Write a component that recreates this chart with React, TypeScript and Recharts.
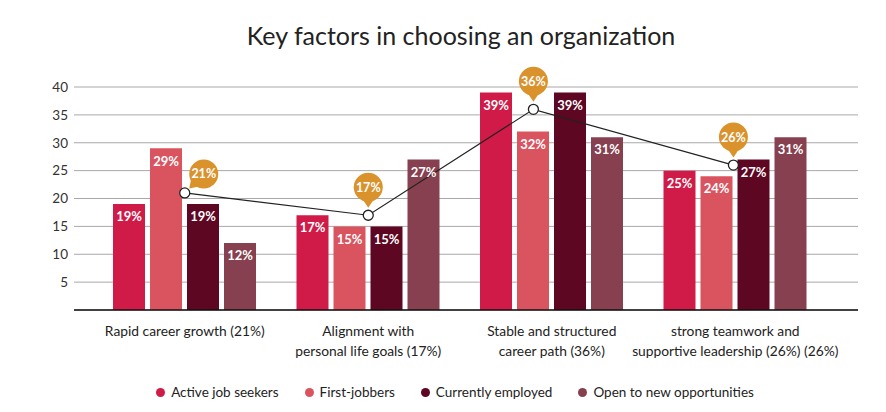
import React from "react";
import {
  ComposedChart,
  Bar,
  Line,
  XAxis,
  YAxis,
  CartesianGrid,
  LabelList,
  Legend,
} from "recharts";

const categories = [
  "Rapid career growth (21%)",
  "Alignment with\npersonal life goals (17%)",
  "Stable and structured\ncareer path (36%)",
  "strong teamwork and\nsupportive leadership (26%) (26%)",
];
const activeJobSeekers = [19, 17, 39, 25];
const firstJobbers = [29, 15, 32, 24];
const currentlyEmployed = [19, 15, 39, 27];
const openToNew = [12, 27, 31, 31];
const overallValues = [21, 17, 36, 26];
const overallPositions = [0.5, 1.5, 2.4, 3.49];
const yTicks = [5, 10, 15, 20, 25, 30, 35, 40];

const seriesNames = [
  "Active job seekers",
  "First-jobbers",
  "Currently employed",
  "Open to new opportunities",
];
const seriesColors = ["#D01A47", "#D9545F", "#5E0723", "#86404F"];
const seriesKeys = ["a", "b", "c", "d"];

const data = categories.map((cat, i) => ({
  cat,
  a: activeJobSeekers[i],
  b: firstJobbers[i],
  c: currentlyEmployed[i],
  d: openToNew[i],
}));

const lineData = overallValues.map((v, i) => ({ x: overallPositions[i], v }));

const FONT = "Lato, 'Open Sans', sans-serif";

const CategoryTick = (props: any) => {
  const { x, y, payload } = props;
  const lines = String(payload.value).split("\n");
  return (
    <g transform={`translate(${x},${y})`}>
      {lines.map((l, i) => (
        <text
          key={i}
          x={0}
          y={0}
          dy={18 + i * 20}
          textAnchor="middle"
          fill="#222"
          fontSize={13.8}
          fontFamily={FONT}
        >
          {l}
        </text>
      ))}
    </g>
  );
};

const Bubble = (props: any) => {
  const { x, y, value, index } = props;
  if (x == null || y == null) return null;
  const r = 14.5;
  let cx = x;
  let cy = y - 28;
  let angle = 0;
  if (index === 0) {
    cx = x + 19;
    cy = y - 19;
    angle = 45;
  }
  return (
    <g>
      <g transform={`translate(${cx},${cy}) rotate(${angle})`}>
        <path d={`M -6 ${r - 3} L 0 ${r + 6} L 6 ${r - 3} Z`} fill="#DA922C" />
        <circle cx={0} cy={0} r={r} fill="#DA922C" />
      </g>
      <text
        x={cx}
        y={cy}
        dy={4.5}
        textAnchor="middle"
        fill="#fff"
        fontWeight={700}
        fontSize={12.5}
        fontFamily={FONT}
      >
        {value}%
      </text>
    </g>
  );
};

const LegendContent = () => (
  <div
    style={{
      display: "flex",
      justifyContent: "center",
      alignItems: "center",
      paddingTop: 24,
      paddingLeft: 38,
      fontFamily: FONT,
      fontSize: 13.5,
      color: "#222",
    }}
  >
    {seriesNames.map((n, i) => (
      <div
        key={n}
        style={{ display: "flex", alignItems: "center", marginRight: i < 3 ? 26 : 0 }}
      >
        <span
          style={{
            display: "inline-block",
            width: 9,
            height: 9,
            borderRadius: "50%",
            background: seriesColors[i],
            marginRight: 6,
          }}
        />
        <span>{n}</span>
      </div>
    ))}
  </div>
);

export default function App() {
  return (
    <div style={{ position: "absolute", left: 0, top: 0, width: 886, height: 412, background: "#fff" }}>
      <div
        style={{
          position: "absolute",
          left: 36,
          top: 20,
          width: 850,
          textAlign: "center",
          fontFamily: FONT,
          fontSize: 25,
          color: "#222",
        }}
      >
        Key factors in choosing an organization
      </div>
      <ComposedChart
        width={886}
        height={412}
        data={data}
        margin={{ top: 87, right: 28, bottom: 2, left: 14 }}
        barGap={5}
      >
        <CartesianGrid vertical={false} stroke="#a8a8a8" strokeWidth={1} />
        <XAxis
          dataKey="cat"
          xAxisId="cat"
          interval={0}
          padding={{ left: 19, right: 31 }}
          tick={<CategoryTick />}
          tickLine={false}
          axisLine={{ stroke: "#111", strokeWidth: 1.5 }}
          height={50}
        />
        <XAxis
          xAxisId="pos"
          dataKey="x"
          type="number"
          domain={[0, 4]}
          allowDataOverflow
          padding={{ left: 19, right: 31 }}
          hide
        />
        <YAxis
          domain={[0, 40]}
          ticks={yTicks}
          tickLine={false}
          axisLine={false}
          tickSize={4}
          tickMargin={2}
          width={60}
          tick={{ fill: "#333", fontSize: 13.5, fontFamily: FONT }}
        />
        {seriesKeys.map((k, i) => (
          <Bar
            key={k}
            xAxisId="cat"
            dataKey={k}
            name={seriesNames[i]}
            fill={seriesColors[i]}
            barSize={32}
            isAnimationActive={false}
          >
            <LabelList
              dataKey={k}
              position="insideTop"
              offset={8}
              fill="#fff"
              fontWeight={700}
              fontSize={13}
              fontFamily={FONT}
              formatter={(v: any) => `${v}%`}
            />
          </Bar>
        ))}
        <Line
          xAxisId="pos"
          data={lineData}
          dataKey="v"
          stroke="#222"
          strokeWidth={1.2}
          dot={{ r: 5, fill: "#fff", stroke: "#222", strokeWidth: 1.3 }}
          activeDot={false}
          isAnimationActive={false}
        >
          <LabelList dataKey="v" content={<Bubble />} />
        </Line>
        <Legend verticalAlign="bottom" height={50} content={<LegendContent />} />
      </ComposedChart>
    </div>
  );
}
